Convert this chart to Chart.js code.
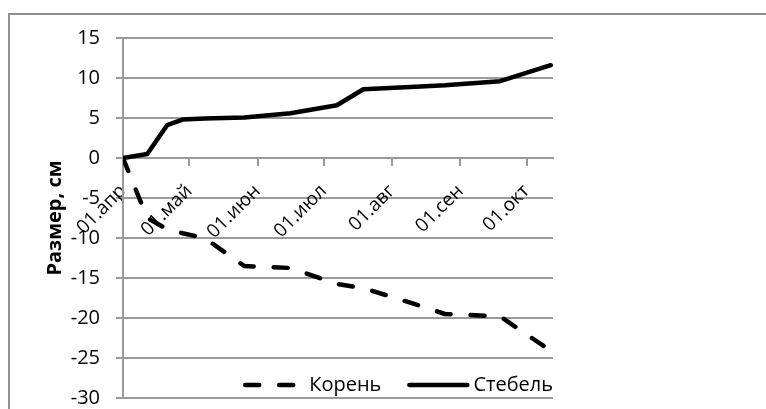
<!DOCTYPE html>
<html>
<head>
<meta charset="utf-8">
<script src="https://cdn.jsdelivr.net/npm/chart.js@4.4.1/dist/chart.umd.min.js"></script>
<style>
  html, body { margin: 0; padding: 0; background: #fff; }
  #wrap { position: relative; width: 766px; height: 409px; overflow: hidden; }
  #frame { position: absolute; left: 8px; top: 13px; width: 800px; height: 450px;
           border-left: 2px solid #8f8f8f; border-top: 2px solid #8f8f8f; }
  #chart { position: absolute; left: 0; top: 0; }
</style>
</head>
<body>
<div id="wrap">
  <div id="frame"></div>
  <!-- canvas runs past the bottom edge: the layout keeps a fixed strip below the plot -->
  <canvas id="chart" width="766" height="424"></canvas>
</div>
<script>
// measurement days, counted from 01.апр
const days = [0, 11, 20, 27, 37, 55, 76, 97, 109, 135, 146, 171, 194];
// sizes, cm (root grows downwards, so negative)
const koren  = [0, -7.5, -8.9, -9.4, -10, -13.5, -13.75, -15.75, -16.25, -18.5, -19.5, -19.8, -24.1];
const stebel = [0, 0.5, 4.1, 4.8, 4.95, 5.05, 5.6, 6.6, 8.6, 8.95, 9.1, 9.6, 11.6];

// first day of each month on the date axis
const monthDays = [0, 30, 61, 91, 122, 153, 183];
const monthLabels = ['01.апр', '01.май', '01.июн', '01.июл', '01.авг', '01.сен', '01.окт'];

const seriesNames = ['Корень', 'Стебель'];

const FONT = 'Open Sans';
const gridColor = '#9a9a9a';

const toPoints = vals => vals.map((v, i) => ({ x: days[i], y: v }));

// legend drawn inside the plot, along its bottom edge
const insideLegend = {
  id: 'insideLegend',
  afterDraw(chart) {
    const { ctx, chartArea } = chart;
    const y = chartArea.bottom - 13;
    ctx.save();
    ctx.font = '20px "' + FONT + '"';
    ctx.textBaseline = 'middle';
    ctx.fillStyle = '#000';
    let x = chartArea.right;
    const sets = chart.data.datasets.slice().reverse();
    sets.forEach(ds => {
      const w = ctx.measureText(ds.label).width;
      x -= w;
      ctx.fillText(ds.label, x, y);
      x -= 6;
      const len = 58;
      ctx.beginPath();
      ctx.lineWidth = ds.borderWidth;
      ctx.strokeStyle = ds.borderColor;
      ctx.lineCap = ds.borderCapStyle || 'butt';
      ctx.setLineDash(ds.borderDash || []);
      ctx.moveTo(x - len, y);
      ctx.lineTo(x, y);
      ctx.stroke();
      x -= len + 28;
    });
    ctx.restore();
  }
};

new Chart(document.getElementById('chart'), {
  type: 'line',
  data: {
    datasets: [
      {
        label: seriesNames[0],
        data: toPoints(koren),
        borderColor: '#000',
        borderWidth: 4.5,
        borderDash: [14, 20],
        borderCapStyle: 'round',
        borderJoinStyle: 'round',
        pointRadius: 0,
        tension: 0
      },
      {
        label: seriesNames[1],
        data: toPoints(stebel),
        borderColor: '#000',
        borderWidth: 4.5,
        borderCapStyle: 'round',
        borderJoinStyle: 'round',
        pointRadius: 0,
        tension: 0
      }
    ]
  },
  options: {
    responsive: false,
    animation: false,
    layout: { padding: { left: 0, top: 38, right: 213, bottom: 0 } },
    plugins: {
      legend: { display: false },
      tooltip: { enabled: false }
    },
    scales: {
      x: {
        type: 'linear',
        min: 0,
        max: 195,
        position: { y: 0 },
        afterBuildTicks: s => { s.ticks = monthDays.map(v => ({ value: v })); },
        ticks: {
          autoSkip: false,
          minRotation: 45,
          maxRotation: 45,
          padding: 15,
          color: '#000',
          font: { family: FONT, size: 19 },
          callback: (v, i) => monthLabels[i]
        },
        grid: { drawOnChartArea: false, drawTicks: true, tickLength: 7, color: gridColor, lineWidth: 2 },
        border: { display: true, color: gridColor, width: 2 }
      },
      y: {
        min: -30,
        max: 15,
        afterFit: s => { s.width = 123; },
        ticks: {
          stepSize: 5,
          padding: 16,
          color: '#000',
          font: { family: FONT, size: 20, lineHeight: 1 }
        },
        grid: { color: gridColor, lineWidth: 2, tickLength: 7 },
        border: { color: gridColor, width: 2 },
        title: {
          display: true,
          text: 'Размер, см',
          color: '#000',
          font: { family: FONT, size: 20, weight: 'bold' },
          padding: { top: 43, bottom: 0 }
        }
      }
    }
  },
  plugins: [insideLegend]
});
</script>
</body>
</html>
